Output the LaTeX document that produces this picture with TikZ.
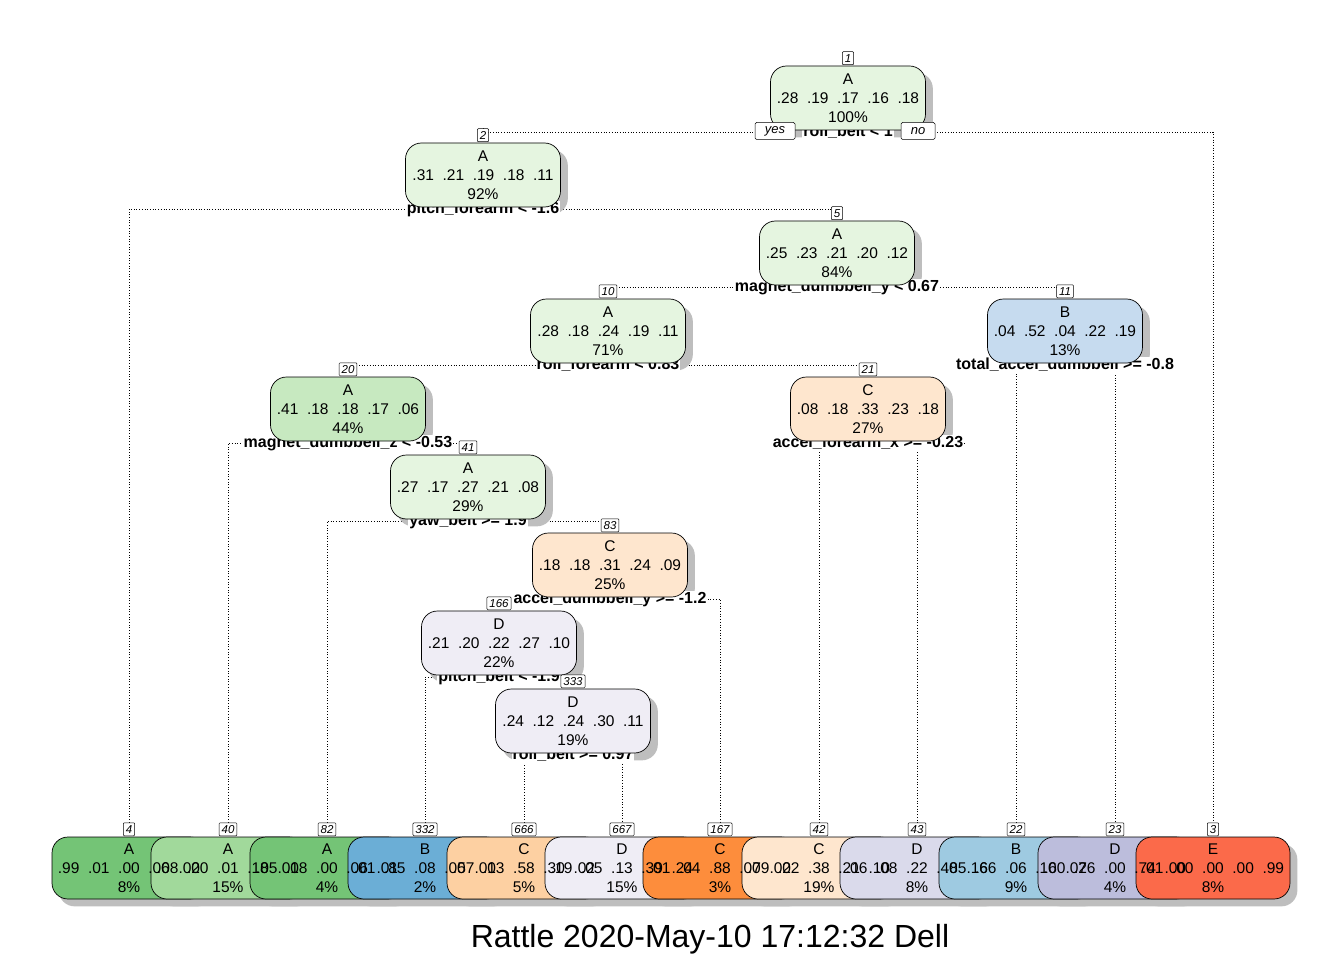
\documentclass[tikz,border=0pt]{standalone}
\usepackage{fontspec}
\setmainfont{Liberation Sans}
\usetikzlibrary{backgrounds}

\definecolor{alight}{HTML}{E5F5E0}
\definecolor{amid}{HTML}{C7E9C0}
\definecolor{aleaf}{HTML}{A1D99B}
\definecolor{adark}{HTML}{74C476}
\definecolor{blight}{HTML}{C6DBEF}
\definecolor{bmid}{HTML}{9ECAE1}
\definecolor{bdark}{HTML}{6BAED6}
\definecolor{clight}{HTML}{FEE6CE}
\definecolor{cmid}{HTML}{FDD0A2}
\definecolor{cdark}{HTML}{FD8D3C}
\definecolor{dlight}{HTML}{EFEDF5}
\definecolor{dmid}{HTML}{DADAEB}
\definecolor{ddark}{HTML}{BCBDDC}
\definecolor{edark}{HTML}{FB6A4A}
\definecolor{shadowgray}{HTML}{BEBEBE}

\pgfdeclarelayer{shadowlayer}
\pgfsetlayers{background,shadowlayer,main}

\newcommand{\vals}[5]{#1\hspace{0.556em}#2\hspace{0.556em}#3\hspace{0.556em}#4\hspace{0.556em}#5}

\begin{document}
\begin{tikzpicture}[x=1pt, y=-1pt]
    % Define styles
    \tikzstyle{box} = [rectangle, draw=black, line width=0.7pt, rounded corners=16pt, minimum width=155pt, minimum height=64pt, align=center, inner sep=0pt, font=\fontsize{15.5}{19}\selectfont]
    \tikzstyle{leaf} = [box, minimum width=154pt, minimum height=62pt]
    \tikzstyle{leaftext} = [align=center, inner sep=0pt, font=\fontsize{15.5}{19}\selectfont]
    \tikzstyle{numbox} = [rectangle, draw=black, line width=0.5pt, fill=white, rounded corners=1pt, inner xsep=2.5pt, inner ysep=1.5pt, minimum height=13pt, anchor=south, font=\fontsize{11.5}{12}\selectfont\itshape]
    \tikzstyle{splitlab} = [fill=white, inner sep=1pt, font=\fontsize{16}{18}\selectfont\bfseries]
    \tikzstyle{yesno} = [rectangle, draw=black, line width=0.5pt, fill=white, rounded corners=1.5pt, inner sep=0pt, minimum height=17pt, font=\fontsize{13}{14}\selectfont\itshape]
    \tikzstyle{conn} = [dotted, line width=0.7pt]
    \tikzstyle{shadow} = [fill=shadowgray, rounded corners=16pt]

    \useasboundingbox (0,0) rectangle (1344,960);

    % Split labels
    \node[splitlab] (s1) at (848,132) {roll\_belt < 1};
    \node[splitlab] (s2) at (483,209) {pitch\_forearm < -1.6};
    \node[splitlab] (s5) at (837,287) {magnet\_dumbbell\_y < 0.67};
    \node[splitlab] (s10) at (608,365) {roll\_forearm < 0.83};
    \node[splitlab] (s11) at (1065,365) {total\_accel\_dumbbell >= -0.8};
    \node[splitlab] (s20) at (348,443) {magnet\_dumbbell\_z < -0.53};
    \node[splitlab] (s21) at (868,443) {accel\_forearm\_x >= -0.23};
    \node[splitlab] (s41) at (468,521) {yaw\_belt >= 1.9};
    \node[splitlab] (s83) at (610,599) {accel\_dumbbell\_y >= -1.2};
    \node[splitlab] (s166) at (499,677) {pitch\_belt < -1.9};
    \node[splitlab] (s333) at (573,755) {roll\_belt >= 0.97};

    % Inner nodes
    \node[box, fill=alight] (n1) at (848,98) {A\\\vals{.28}{.19}{.17}{.16}{.18}\\100\%};
    \node[box, fill=alight] (n2) at (483,175) {A\\\vals{.31}{.21}{.19}{.18}{.11}\\92\%};
    \node[box, fill=alight] (n5) at (837,253) {A\\\vals{.25}{.23}{.21}{.20}{.12}\\84\%};
    \node[box, fill=alight] (n10) at (608,331) {A\\\vals{.28}{.18}{.24}{.19}{.11}\\71\%};
    \node[box, fill=blight] (n11) at (1065,331) {B\\\vals{.04}{.52}{.04}{.22}{.19}\\13\%};
    \node[box, fill=amid] (n20) at (348,409) {A\\\vals{.41}{.18}{.18}{.17}{.06}\\44\%};
    \node[box, fill=clight] (n21) at (868,409) {C\\\vals{.08}{.18}{.33}{.23}{.18}\\27\%};
    \node[box, fill=alight] (n41) at (468,487) {A\\\vals{.27}{.17}{.27}{.21}{.08}\\29\%};
    \node[box, fill=clight] (n83) at (610,565) {C\\\vals{.18}{.18}{.31}{.24}{.09}\\25\%};
    \node[box, fill=dlight] (n166) at (499,643) {D\\\vals{.21}{.20}{.22}{.27}{.10}\\22\%};
    \node[box, fill=dlight] (n333) at (573,721) {D\\\vals{.24}{.12}{.24}{.30}{.11}\\19\%};

    % Leaves
    \node[leaf, fill=adark] (b4) at (129,868) {};
    \node[leaf, fill=aleaf] (b40) at (228,868) {};
    \node[leaf, fill=adark] (b82) at (327,868) {};
    \node[leaf, fill=bdark] (b332) at (425,868) {};
    \node[leaf, fill=cmid] (b666) at (524,868) {};
    \node[leaf, fill=dlight] (b667) at (622,868) {};
    \node[leaf, fill=cdark] (b167) at (720,868) {};
    \node[leaf, fill=clight] (b42) at (819,868) {};
    \node[leaf, fill=dmid] (b43) at (917,868) {};
    \node[leaf, fill=bmid] (b22) at (1016,868) {};
    \node[leaf, fill=ddark] (b23) at (1115,868) {};
    \node[leaf, fill=edark] (b3) at (1213,868) {};

    \node[leaftext] (t4) at (b4) {A\\\vals{.99}{.01}{.00}{.00}{.00}\\8\%};
    \node[leaftext] (t40) at (b40) {A\\\vals{.68}{.20}{.01}{.10}{.01}\\15\%};
    \node[leaftext] (t82) at (b82) {A\\\vals{.85}{.08}{.00}{.06}{.01}\\4\%};
    \node[leaftext] (t332) at (b332) {B\\\vals{.01}{.85}{.08}{.05}{.01}\\2\%};
    \node[leaftext] (t666) at (b666) {C\\\vals{.07}{.03}{.58}{.30}{.02}\\5\%};
    \node[leaftext] (t667) at (b667) {D\\\vals{.19}{.05}{.13}{.39}{.24}\\15\%};
    \node[leaftext] (t167) at (b167) {C\\\vals{.01}{.04}{.88}{.07}{.00}\\3\%};
    \node[leaftext] (t42) at (b42) {C\\\vals{.09}{.22}{.38}{.21}{.10}\\19\%};
    \node[leaftext] (t43) at (b43) {D\\\vals{.06}{.08}{.22}{.48}{.16}\\8\%};
    \node[leaftext] (t22) at (b22) {B\\\vals{.05}{.66}{.06}{.16}{.07}\\9\%};
    \node[leaftext] (t23) at (b23) {D\\\vals{.00}{.26}{.00}{.74}{.00}\\4\%};
    \node[leaftext] (t3) at (b3) {E\\\vals{.01}{.00}{.00}{.00}{.99}\\8\%};

    % Node numbers
    \node[numbox] (l1) at (848,65) {1};
    \node[numbox] (l2) at (483,142) {2};
    \node[numbox] (l5) at (837,220) {5};
    \node[numbox] (l10) at (608,298) {10};
    \node[numbox] (l11) at (1065,298) {11};
    \node[numbox] (l20) at (348,376) {20};
    \node[numbox] (l21) at (868,376) {21};
    \node[numbox] (l41) at (468,454) {41};
    \node[numbox] (l83) at (610,532) {83};
    \node[numbox] (l166) at (499,610) {166};
    \node[numbox] (l333) at (573,688) {333};
    \node[numbox] (l4) at (129,836) {4};
    \node[numbox] (l40) at (228,836) {40};
    \node[numbox] (l82) at (327,836) {82};
    \node[numbox] (l332) at (425,836) {332};
    \node[numbox] (l666) at (524,836) {666};
    \node[numbox] (l667) at (622,836) {667};
    \node[numbox] (l167) at (720,836) {167};
    \node[numbox] (l42) at (819,836) {42};
    \node[numbox] (l43) at (917,836) {43};
    \node[numbox] (l22) at (1016,836) {22};
    \node[numbox] (l23) at (1115,836) {23};
    \node[numbox] (l3) at (1213,836) {3};

    % yes / no
    \node[yesno, minimum width=40pt] (yes) at (775,131) {yes};
    \node[yesno, minimum width=34pt] (no) at (918,131) {no};

    % Caption
    \node[font=\fontsize{32}{36}\selectfont] (cap) at (710,939) {Rattle 2020-May-10 17:12:32 Dell};

    % Shadows
    \begin{pgfonlayer}{shadowlayer}
        \foreach \b in {n1,n2,n5,n10,n11,n20,n21,n41,n83,n166,n333,b4,b40,b82,b332,b666,b667,b167,b42,b43,b22,b23,b3}
            \fill[shadow] ([shift={(7,7)}]\b.south west) rectangle ([shift={(7,7)}]\b.north east);
    \end{pgfonlayer}

    % Connectors
    \begin{scope}[on background layer]
        \fill[white] (0,0) rectangle (1344,960);
        \draw[conn] (l2.north) |- (s1) -| (l3.north);
        \draw[conn] (l4.north) |- (s2) -| (l5.north);
        \draw[conn] (l10.north) |- (s5) -| (l11.north);
        \draw[conn] (l20.north) |- (s10) -| (l21.north);
        \draw[conn] (l22.north) |- (s11) -| (l23.north);
        \draw[conn] (l40.north) |- (s20) -| (l41.north);
        \draw[conn] (l42.north) |- (s21) -| (l43.north);
        \draw[conn] (l82.north) |- (s41) -| (l83.north);
        \draw[conn] (l166.north) |- (s83) -| (l167.north);
        \draw[conn] (l332.north) |- (s166) -| (l333.north);
        \draw[conn] (l666.north) |- (s333) -| (l667.north);
    \end{scope}
\end{tikzpicture}
\end{document}
